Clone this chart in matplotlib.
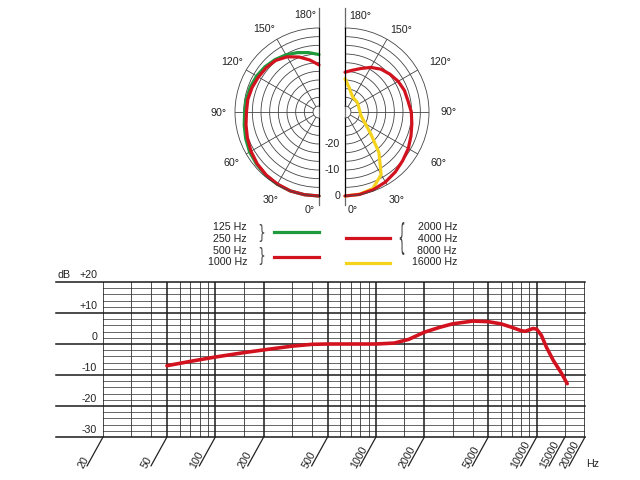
import numpy as np
import matplotlib.pyplot as plt
from matplotlib.lines import Line2D
from matplotlib.patches import PathPatch
from matplotlib.textpath import TextPath
from matplotlib.font_manager import FontProperties
from matplotlib.transforms import Affine2D

plt.rcParams['font.family'] = ['Liberation Sans', 'DejaVu Sans']
plt.rcParams['font.size'] = 7.7
plt.rcParams['text.color'] = '#222222'

# polar data (dB vs angle, degrees)
angles = [0, 10, 20, 30, 40, 50, 60, 70, 80, 90, 100, 110, 120, 130, 140, 150, 160, 170, 180]
db_125_250 = [0, 0, 0, -0.2, -0.5, -1.0, -1.5, -2.3, -3.1, -3.7, -3.9, -4.2, -4.6, -5.2, -6.0, -6.9, -8.0, -9.1, -10.2]
db_500_1000 = [0, 0, 0, -0.3, -0.7, -1.3, -2.1, -3.0, -3.8, -4.4, -4.5, -4.9, -5.4, -5.8, -6.4, -7.8, -9.8, -12.0, -14.2]
db_2k_8k = [0, -0.1, -0.5, -1.2, -2.2, -3.3, -4.2, -5.3, -6.2, -6.8, -7.7, -8.0, -8.7, -9.7, -10.8, -12.5, -14.5, -16.0, -17.0]
db_16k = [0, -0.2, -1.0, -4.5, -12.0, -19.5, -23.3, -25.2, -26.2, -26.5, -26.7, -26.7, -26.5, -26.3, -26.2, -26.0, -25.0, -22.8, -19.5]

# frequency response
freqs = [50, 70, 100, 150, 200, 300, 400, 500, 700, 1000, 1300, 1600, 2000, 2500, 3000,
         4000, 5000, 6000, 7000, 8000, 8500, 9500, 10000, 10700, 11500, 12700, 14300, 15500]
response = [-7.0, -5.6, -4.2, -2.8, -1.9, -0.7, -0.1, 0, 0, 0, 0.3, 1.5, 3.8, 5.4, 6.5,
            7.4, 7.2, 6.5, 5.4, 4.3, 4.1, 5.0, 4.8, 2.8, -1.0, -5.3, -9.5, -12.8]

major_freqs = [20, 50, 100, 200, 500, 1000, 2000, 5000, 10000, 20000]
minor_freqs = [30, 40, 60, 70, 80, 90, 150, 300, 400, 600, 700, 800, 900, 1500,
               3000, 4000, 6000, 7000, 8000, 9000, 15000]
freq_labels = [20, 50, 100, 200, 500, 1000, 2000, 5000, 10000, 15000, 20000]
db_major = [20, 10, 0, -10, -20, -30]

RED = '#d3121f'
GREEN = '#1e9a3d'
YELLOW = '#f5d31c'
W, H = 640, 480

fig = plt.figure(figsize=(6.4, 4.8), dpi=100)


def box(x0, y0, x1, y1):
    return [x0 / W, 1 - y1 / H, (x1 - x0) / W, (y1 - y0) / H]


R_ORIGIN = -32.3
ring_levels = np.linspace(-30, 0, 10)[1:-1]
spokes = [30, 60, 90, 120, 150]


def half_polar(rect, direction, top_ext, bot_ext):
    ax = fig.add_axes(rect, projection='polar')
    ax.set_theta_zero_location('S')
    ax.set_theta_direction(direction)
    ax.set_thetamin(0)
    ax.set_thetamax(180)
    ax.set_xticks(np.deg2rad(spokes))
    ax.set_xticklabels([])
    ax.set_yticks(ring_levels)
    ax.set_yticklabels([])
    ax.grid(True, color='#444444', lw=0.6)
    for s in ['polar', 'inner']:
        ax.spines[s].set_color('#444444')
        ax.spines[s].set_linewidth(0.6)
    for s in ['start', 'end']:
        ax.spines[s].set_visible(False)
    ax.plot([np.pi, np.pi, 0, 0], [top_ext, R_ORIGIN, R_ORIGIN, bot_ext],
            color='#666666', lw=0.9, clip_on=False)
    return ax


# half wedges are padded to a square box, centre sits at 3/4 (left) or 1/4 (right)
axl = half_polar(box(193, 28, 361, 196), -1, 7.7, 3.5)
axr = half_polar(box(303, 28, 471, 196), 1, 7.7, 3.5)

th = np.deg2rad(angles)
axl.plot(th, db_125_250, color=GREEN, lw=2.3, solid_capstyle='round', clip_on=False)
axl.plot(th, db_500_1000, color=RED, lw=2.3, solid_capstyle='round', clip_on=False)
axr.plot(th, db_16k, color=YELLOW, lw=2.3, solid_capstyle='round', clip_on=False)
axr.plot(th, db_2k_8k, color=RED, lw=2.3, solid_capstyle='round', clip_on=False)

for ax in (axl, axr):
    ax.set_rlim(-30, 0)
    ax.set_rorigin(R_ORIGIN)

left_lbl = [('180°', -14, 97), ('150°', -55, 83), ('120°', -87, 50), ('90°', -100, -1),
            ('60°', -88, -51), ('30°', -48, -88), ('0°', -9, -98)]
right_lbl = [('180°', 15, 96), ('150°', 56, 82), ('120°', 95, 50), ('90°', 104, 0),
             ('60°', 93, -51), ('30°', 52, -88), ('0°', 8, -98)]
for ax, lbls in ((axl, left_lbl), (axr, right_lbl)):
    for t, dx, dy in lbls:
        ax.annotate(t, xy=(0, R_ORIGIN), xytext=(dx, dy), textcoords='offset pixels',
                    ha='center', va='center', annotation_clip=False)

for v in [0, -10, -20]:
    axr.annotate(str(v), xy=(0, v), xytext=(-5, 0), textcoords='offset pixels',
                 ha='right', va='center', annotation_clip=False)

# legend
def legend_line(x0, x1, y, c):
    fig.add_artist(Line2D([x0 / W, x1 / W], [1 - y / H] * 2, transform=fig.transFigure,
                          color=c, lw=2.3))


def brace(ch, xc, yc, h, w):
    tp = TextPath((0, 0), ch, size=10, prop=FontProperties(family='DejaVu Sans'))
    e = tp.get_extents()
    tr = (Affine2D().translate(-e.x0 - e.width / 2, -e.y0 - e.height / 2)
          .scale(w / e.width, h / e.height).translate(xc, H - yc))
    fig.add_artist(PathPatch(tp, transform=tr, fc='#444444', lw=0))


for txt, y in [('125 Hz', 227), ('250 Hz', 239), ('500 Hz', 251), ('1000 Hz', 262)]:
    fig.text(247 / W, 1 - y / H, txt, ha='right', va='center')
for txt, y in [('2000 Hz', 227), ('4000 Hz', 239), ('8000 Hz', 251), ('16000 Hz', 262)]:
    fig.text(457 / W, 1 - y / H, txt, ha='right', va='center')
brace('}', 262, 233, 18, 4.5)
brace('}', 262, 256, 18, 4.5)
brace('{', 402, 238.5, 33, 4.5)
legend_line(274, 319, 232, GREEN)
legend_line(274, 319, 257, RED)
legend_line(346, 390, 238, RED)
legend_line(346, 390, 263, YELLOW)

# frequency response
ax = fig.add_axes(box(103, 282, 585, 437))
ax.set_xscale('log')
ax.set_xlim(20, 20000)
ax.set_ylim(-30, 20)
for s in ax.spines.values():
    s.set_visible(False)
ax.set_xticks([])
ax.set_yticks([])
ax.minorticks_off()

for v in np.arange(-28, 20, 2):
    if v % 10:
        ax.axhline(v, color='#666666', lw=0.7, zorder=1)
for f in minor_freqs:
    ax.axvline(f, color='#333333', lw=0.6, zorder=1)
for f in major_freqs:
    ax.axvline(f, color='#1a1a1a', lw=1.1, zorder=2)
for v in db_major:
    ax.axhline(v, xmin=-0.0975, xmax=1, color='#1a1a1a', lw=1.1, clip_on=False, zorder=2)
    ax.annotate('0' if v == 0 else f'{v:+d}', xy=(0, v), xycoords=ax.get_yaxis_transform(),
                xytext=(-6, 7), textcoords='offset pixels', ha='right', va='center',
                annotation_clip=False)
ax.annotate('dB', xy=(0, 20), xycoords=ax.get_yaxis_transform(), xytext=(-46, 7),
            textcoords='offset pixels', ha='left', va='center', annotation_clip=False)

for f in freq_labels:
    ax.annotate('', xy=(f, -30), xytext=(-16, -29), textcoords='offset pixels',
                arrowprops=dict(arrowstyle='-', lw=0.9, color='#222222', shrinkA=0, shrinkB=0),
                annotation_clip=False)
    ax.annotate(str(f), xy=(f, -30), xytext=(-20, -32), textcoords='offset pixels',
                rotation=61.6, rotation_mode='anchor', ha='left', va='baseline',
                annotation_clip=False)
ax.annotate('Hz', xy=(20000, -30), xytext=(1, -27), textcoords='offset pixels',
            ha='left', va='center', annotation_clip=False)

ax.plot(freqs, response, color=RED, lw=2.6, solid_capstyle='round', zorder=3)

fig.savefig('out.png', dpi=100, facecolor='white')
